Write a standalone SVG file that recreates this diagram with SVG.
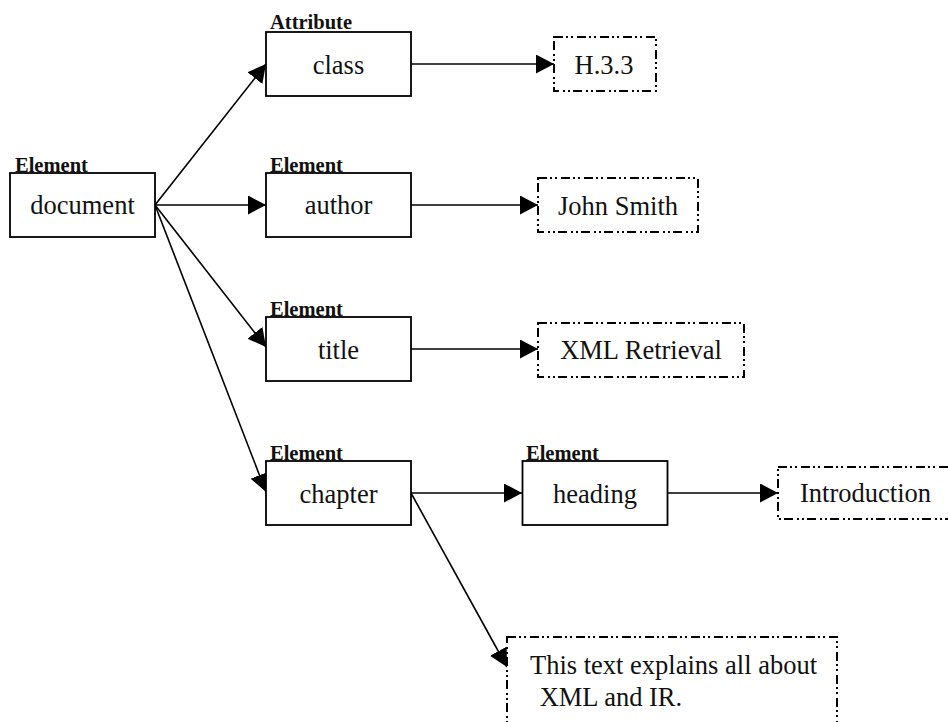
<svg xmlns="http://www.w3.org/2000/svg" width="948" height="722" viewBox="0 0 948 722">
<style>
.box{fill:#fff;stroke:#000;stroke-width:1.8}
.val{fill:#fff;stroke:#000;stroke-width:2;stroke-dasharray:9 3 2 3 2 4}
.t{font-family:"Liberation Serif","Times New Roman",serif;font-size:26.5px;fill:#111;text-anchor:middle}
.tl{font-family:"Liberation Serif","Times New Roman",serif;font-size:26.5px;fill:#111}
.lab{font-family:"Liberation Serif","Times New Roman",serif;font-size:20.5px;font-weight:bold;fill:#111}
.c{stroke:#000;stroke-width:1.6;fill:none;marker-end:url(#ah)}
</style>
<defs>
<marker id="ah" markerUnits="userSpaceOnUse" markerWidth="20" markerHeight="20" refX="18" refY="9.5" orient="auto">
<path d="M0,0 L18,9.5 L0,19 z" fill="#000"/>
</marker>
</defs>
<g id="connectors">
<line class="c" x1="155" y1="205" x2="266" y2="64"/>
<line class="c" x1="155" y1="205" x2="266" y2="205"/>
<line class="c" x1="155" y1="205" x2="266" y2="347"/>
<line class="c" x1="155" y1="205" x2="266" y2="492"/>
<line class="c" x1="411" y1="64" x2="554" y2="64"/>
<line class="c" x1="411" y1="205" x2="538" y2="205"/>
<line class="c" x1="411" y1="349" x2="538" y2="349"/>
<line class="c" x1="411" y1="493" x2="522" y2="493"/>
<line class="c" x1="667" y1="493" x2="778" y2="493"/>
<line class="c" x1="411" y1="493" x2="507" y2="667"/>
</g>
<g id="document">
<text class="lab" x="15" y="172">Element</text>
<rect class="box" x="10" y="173" width="145" height="64"/>
<text class="t" x="82.5" y="214">document</text>
</g>
<g id="class">
<text class="lab" x="270" y="29">Attribute</text>
<rect class="box" x="266" y="32" width="145" height="64"/>
<text class="t" x="338.5" y="74">class</text>
</g>
<g id="author">
<text class="lab" x="270" y="172">Element</text>
<rect class="box" x="266" y="173" width="145" height="64"/>
<text class="t" x="338.5" y="214">author</text>
</g>
<g id="title">
<text class="lab" x="270" y="316">Element</text>
<rect class="box" x="266" y="317" width="145" height="64"/>
<text class="t" x="338.5" y="359">title</text>
</g>
<g id="chapter">
<text class="lab" x="270" y="460">Element</text>
<rect class="box" x="266" y="461" width="145" height="64"/>
<text class="t" x="338.5" y="503">chapter</text>
</g>
<g id="heading">
<text class="lab" x="526" y="460">Element</text>
<rect class="box" x="522.5" y="461" width="145" height="64"/>
<text class="t" x="595" y="503">heading</text>
</g>
<g id="h333">
<rect class="val" x="554" y="37" width="102" height="54"/>
<text class="t" x="604" y="74">H.3.3</text>
</g>
<g id="johnsmith">
<rect class="val" x="538" y="178" width="160" height="54"/>
<text class="t" x="618" y="215">John Smith</text>
</g>
<g id="xmlretrieval">
<rect class="val" x="538" y="323" width="206" height="54"/>
<text class="t" x="641" y="359">XML Retrieval</text>
</g>
<g id="introduction">
<rect class="val" x="778" y="467" width="200" height="52"/>
<text class="tl" x="800" y="502">Introduction</text>
</g>
<g id="textnode">
<rect class="val" x="507" y="637" width="330" height="110"/>
<text class="tl" x="530" y="674">This text explains all about</text>
<text class="tl" x="533" y="706" xml:space="preserve"> XML and IR.</text>
</g>
</svg>
